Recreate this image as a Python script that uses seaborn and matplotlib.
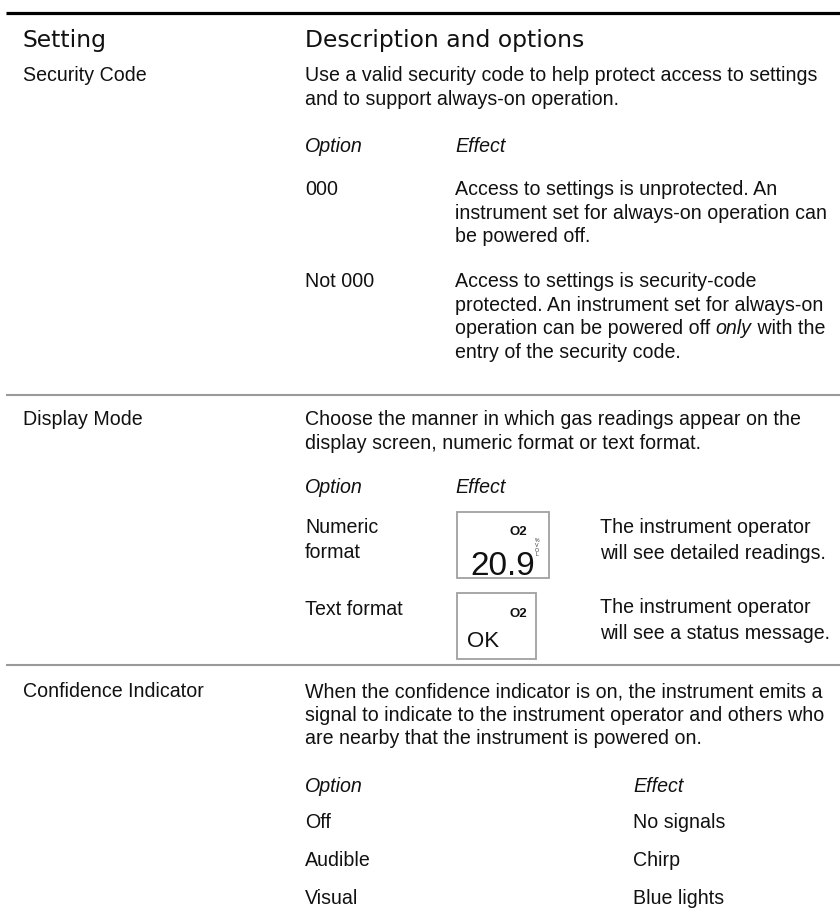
import matplotlib
matplotlib.use('Agg')
import matplotlib.pyplot as plt
import seaborn as sns
from matplotlib import font_manager
from matplotlib.patches import Rectangle

# Table content
headers = ['Setting', 'Description and options']
settings = ['Security Code', 'Display Mode', 'Confidence Indicator']
descriptions = [
    ['Use a valid security code to help protect access to settings',
     'and to support always-on operation.'],
    ['Choose the manner in which gas readings appear on the',
     'display screen, numeric format or text format.'],
    ['When the confidence indicator is on, the instrument emits a',
     'signal to indicate to the instrument operator and others who',
     'are nearby that the instrument is powered on.'],
]
sub_headers = ['Option', 'Effect']

security_options = ['000', 'Not 000']
security_effects = [
    ['Access to settings is unprotected. An',
     'instrument set for always-on operation can',
     'be powered off.'],
    ['Access to settings is security-code',
     'protected. An instrument set for always-on',
     ('operation can be powered off ', 'only', ' with the'),
     'entry of the security code.'],
]

display_options = [['Numeric', 'format'], ['Text format']]
display_effects = [['The instrument operator', 'will see detailed readings.'],
                   ['The instrument operator', 'will see a status message.']]
numeric_reading = '20.9'
gas_label = 'O2'
unit_label = '%\nV\nO\nL'
status_reading = 'OK'

confidence_options = ['Off', 'Audible', 'Visual']
confidence_effects = ['No signals', 'Chirp', 'Blue lights']

# Styling
sns.set_theme(style='white')
installed = {f.name for f in font_manager.fontManager.ttflist}
if 'Liberation Sans Narrow' in installed:
    BODY = ['Liberation Sans Narrow', 'DejaVu Sans']
    BODY_SIZE = 17
else:
    BODY = ['Liberation Sans', 'DejaVu Sans']
    BODY_SIZE = 14.1
plt.rcParams['font.family'] = BODY
WIDE = ['Liberation Sans', 'DejaVu Sans']

fig = plt.figure(figsize=(8.4, 9.08), dpi=100)
ax = fig.add_axes([0, 0, 1, 1])
ax.set_xlim(0, 840)
ax.set_ylim(908, 0)
ax.axis('off')

LH = 23.7
X_SET, X_DESC, X_EFF, X_EFF3, X_ICON_TXT = 23, 305, 455, 633, 600


def txt(x, y, s, **kw):
    kw.setdefault('fontsize', BODY_SIZE)
    return ax.text(x, y, s, ha='left', va='baseline', color='#111111', **kw)


# rules
ax.plot([6, 840], [12.7, 12.7], color='black', lw=2.3, solid_capstyle='butt')
for yl in [395, 665]:
    ax.plot([6, 840], [yl, yl], color='#9a9a9a', lw=1.5, solid_capstyle='butt')

# header row
for x, h in zip([X_SET, X_DESC], headers):
    txt(x, 47, h, family=['DejaVu Sans'], fontsize=16.9)

# setting names + descriptions
for name, y0, lines in zip(settings, [81, 425, 697], descriptions):
    txt(X_SET, y0, name)
    for i, line in enumerate(lines):
        txt(X_DESC, y0 + i * LH, line)

# --- security code
txt(X_DESC, 152, sub_headers[0], style='italic')
txt(X_EFF, 152, sub_headers[1], style='italic')
fig.canvas.draw()
renderer = fig.canvas.get_renderer()
for opt, y0, lines in zip(security_options, [195, 287], security_effects):
    txt(X_DESC, y0, opt)
    for i, line in enumerate(lines):
        y = y0 + i * LH
        if isinstance(line, tuple):
            x = X_EFF
            for j, part in enumerate(line):
                t = txt(x, y, part, style='italic' if j == 1 else 'normal')
                x += t.get_window_extent(renderer).width
        else:
            txt(X_EFF, y, line)

# --- display mode
txt(X_DESC, 493, sub_headers[0], style='italic')
txt(X_EFF, 493, sub_headers[1], style='italic')
for opt_lines, y0 in zip(display_options, [533, 615]):
    for i, line in enumerate(opt_lines):
        txt(X_DESC, y0 + i * 25, line)
for eff_lines, y0 in zip(display_effects, [533, 613]):
    for i, line in enumerate(eff_lines):
        txt(X_ICON_TXT, y0 + i * 26, line)

# numeric icon
ax.add_patch(Rectangle((457, 512), 92, 66, fill=False, ec='#a0a0a0', lw=1.3))
txt(470, 575, numeric_reading, fontsize=24, family=BODY)
txt(510, 535, gas_label, fontsize=9.5, weight='bold', family=WIDE)
ax.text(537, 538, unit_label, fontsize=3.8, ha='center', va='top', linespacing=0.95,
        family=WIDE, color='#333333')

# text icon
ax.add_patch(Rectangle((457, 593), 79, 66, fill=False, ec='#a0a0a0', lw=1.3))
txt(509, 617, gas_label, fontsize=9.5, weight='bold', family=WIDE)
txt(467, 647, status_reading, fontsize=16, family=WIDE)

# --- confidence indicator
txt(X_DESC, 792, sub_headers[0], style='italic')
txt(X_EFF3, 792, sub_headers[1], style='italic')
for opt, eff, y in zip(confidence_options, confidence_effects, [828, 866, 904]):
    txt(X_DESC, y, opt)
    txt(X_EFF3, y, eff)

fig.savefig('out.png', dpi=100, facecolor='white')
